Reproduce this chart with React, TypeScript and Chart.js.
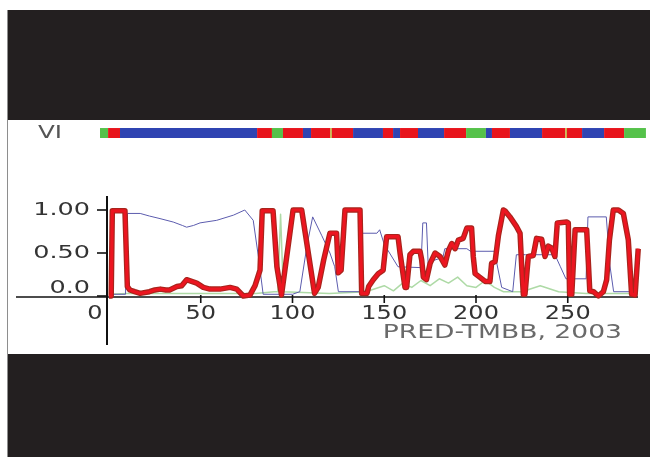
import React, { useEffect, useRef } from "react";
import { Chart, registerables } from "chart.js";

Chart.register(...registerables);

// ---- data ----
const RED_X = [0, 1.2, 1.8, 8.7, 10, 11.4, 14, 17, 22, 25, 28, 31, 33, 37, 39.6, 42.3, 45, 47.8, 51.4, 55, 60.5, 66, 69.6, 73.2, 76.8, 79.6, 82.3, 83.5, 89.4, 91.5, 94, 100.3, 105, 112, 114, 117, 120.4, 124, 125, 126.5, 128.6, 136.8, 137.7, 140.6, 141.5, 144, 146.7, 149.4, 151.3, 157.5, 158.6, 161.3, 162.2, 164, 165.8, 169.5, 170.4, 171.3, 173, 175, 177.7, 180.4, 183, 185, 186.8, 188.6, 190.4, 193, 195, 197.6, 198.5, 199.5, 202, 205, 207.6, 208.5, 210.4, 212.2, 214.9, 215.8, 218.5, 222, 224, 225, 225.8, 226.7, 228.5, 231.2, 233, 235.8, 237.6, 239.4, 241.2, 243, 244.3, 249.4, 250.3, 251, 252.2, 254, 260.3, 261.2, 262, 264, 266.7, 269.4, 271.2, 272.7, 274.8, 277.6, 280.3, 283, 284.8, 286.7, 288.4];
const RED_Y = [0, 0, 0.99, 0.99, 0.11, 0.07, 0.05, 0.03, 0.05, 0.07, 0.08, 0.07, 0.07, 0.11, 0.12, 0.19, 0.17, 0.15, 0.1, 0.08, 0.08, 0.1, 0.08, 0.0, 0.01, 0.12, 0.3, 0.99, 0.99, 0.34, 0.01, 1.0, 1.0, 0.03, 0.1, 0.42, 0.73, 0.73, 0.27, 0.3, 1.0, 1.0, 0.03, 0.03, 0.11, 0.19, 0.26, 0.3, 0.69, 0.69, 0.5, 0.1, 0.1, 0.48, 0.52, 0.52, 0.42, 0.22, 0.19, 0.38, 0.5, 0.46, 0.36, 0.53, 0.61, 0.55, 0.65, 0.67, 0.79, 0.79, 0.46, 0.26, 0.22, 0.17, 0.17, 0.38, 0.4, 0.7, 1.0, 0.99, 0.92, 0.81, 0.73, 0.3, 0.02, 0.02, 0.46, 0.47, 0.67, 0.66, 0.46, 0.58, 0.56, 0.46, 0.85, 0.86, 0.85, 0.02, 0.02, 0.77, 0.77, 0.4, 0.06, 0.05, 0.0, 0.05, 0.19, 0.65, 1.0, 1.0, 0.96, 0.65, 0.02, 0.01, 0.55];

const BLUE_X = [0, 9, 10, 17, 22, 27.8, 35, 40, 42.3, 46, 49.6, 58.7, 67.8, 74, 78.6, 81.4, 84, 100, 104, 108, 111, 116, 120.4, 123, 125, 137, 138, 146, 147.5, 150, 157.5, 170, 171, 173, 174, 175, 182, 183, 195, 197, 210, 214, 220, 222, 227, 243, 246, 249, 260, 261, 271, 273, 275, 288];
const BLUE_Y = [0.02, 0.02, 0.96, 0.96, 0.93, 0.9, 0.86, 0.82, 0.8, 0.82, 0.85, 0.88, 0.94, 1.0, 0.88, 0.46, 0.02, 0.02, 0.05, 0.6, 0.92, 0.7, 0.5, 0.34, 0.05, 0.05, 0.73, 0.73, 0.77, 0.6, 0.34, 0.33, 0.85, 0.85, 0.33, 0.4, 0.45, 0.55, 0.55, 0.52, 0.52, 0.1, 0.05, 0.48, 0.48, 0.48, 0.34, 0.2, 0.2, 0.92, 0.92, 0.35, 0.05, 0.05];

const GREEN_X = [0, 10, 80, 90, 92, 93.5, 95, 120, 140, 150, 155, 160, 165, 170, 175, 180, 185, 190, 195, 200, 205, 210, 215, 225, 235, 245, 260, 288];
const GREEN_Y = [0.02, 0.03, 0.03, 0.05, 0.05, 0.95, 0.05, 0.03, 0.05, 0.12, 0.06, 0.15, 0.1, 0.18, 0.12, 0.2, 0.15, 0.22, 0.12, 0.1, 0.18, 0.1, 0.05, 0.05, 0.12, 0.05, 0.03, 0.03];

const X_TICKS = [0, 50, 100, 150, 200, 250];
const X_TICK_LABELS = ["0", "50", "100", "150", "200", "250"];
const Y_TICKS = [0, 0.5, 1.0];
const Y_TICK_LABELS = ["0.0", "0.50", "1.00"];

// topology strip: boundaries and the state of each piece between them
const TOPO_BOUNDS = [-4.9, -0.5, 6.0, 80.7, 88.8, 94.8, 105.7, 110.1, 120.5, 121.5, 133, 149.3, 154.8, 158.6, 168.4, 182.6, 194.6, 205.4, 208.7, 218.5, 236, 248.6, 249.6, 257.8, 269.8, 280.7, 292.6];
const TOPO_STATES = ["O", "M", "I", "M", "O", "M", "I", "M", "Y", "M", "I", "M", "I", "M", "I", "M", "O", "I", "M", "I", "M", "Y", "M", "I", "M", "O"];
const TOPO_LABEL = "VI";
const CREDIT = "PRED-TMBB, 2003";

// ---- layout / style constants ----
const X_MIN = -55.04;
const X_MAX = 294.82;
const Y_MIN = -0.6744;
const Y_MAX = 2.0465;
const BAR_LEVEL = 1.895;
const STATE_COLORS: Record<string, string> = {
  M: "#e8141c",
  I: "#2f44b2",
  O: "#55c24a",
  Y: "#c9b24a",
};
const FONT = "'DejaVu Sans', Verdana, sans-serif";

function stretchedText(
  ctx: CanvasRenderingContext2D,
  text: string,
  x: number,
  y: number,
  size: number,
  sx: number,
  align: CanvasTextAlign,
  color: string
) {
  ctx.save();
  ctx.translate(x, y);
  ctx.scale(sx, 1);
  ctx.font = `${size}px ${FONT}`;
  ctx.textAlign = align;
  ctx.textBaseline = "middle";
  ctx.fillStyle = color;
  ctx.fillText(text, 0, 0);
  ctx.restore();
}

const axesPlugin = {
  id: "crossAxes",
  beforeDatasetsDraw(chart: any) {
    const { ctx, scales } = chart;
    const xs = scales.x;
    const ys = scales.y;
    const x0 = xs.getPixelForValue(0) - 2;
    const y0 = ys.getPixelForValue(0) + 1;
    ctx.save();
    ctx.strokeStyle = "#111";
    // x axis
    ctx.lineWidth = 1.6;
    ctx.beginPath();
    ctx.moveTo(xs.getPixelForValue(-50.7), y0);
    ctx.lineTo(xs.getPixelForValue(288.3), y0);
    ctx.stroke();
    // y axis
    ctx.lineWidth = 2;
    ctx.beginPath();
    ctx.moveTo(x0, ys.getPixelForValue(1.163));
    ctx.lineTo(x0, ys.getPixelForValue(-0.57));
    ctx.stroke();
    // y ticks
    ctx.lineWidth = 1.6;
    Y_TICKS.forEach((v) => {
      const py = ys.getPixelForValue(v);
      ctx.beginPath();
      ctx.moveTo(x0 - 10, py);
      ctx.lineTo(x0, py);
      ctx.stroke();
    });
    // x ticks
    X_TICKS.forEach((v) => {
      if (v === 0) return;
      const px = xs.getPixelForValue(v);
      ctx.beginPath();
      ctx.moveTo(px, y0 - 2);
      ctx.lineTo(px, y0 + 6);
      ctx.stroke();
    });
    ctx.restore();
  },
  afterDraw(chart: any) {
    const { ctx, scales, chartArea } = chart;
    const xs = scales.x;
    const ys = scales.y;
    const x0 = xs.getPixelForValue(0) - 2;
    const y0 = ys.getPixelForValue(0) + 1;
    Y_TICKS.forEach((v, i) => {
      let py = ys.getPixelForValue(v) + 1;
      if (py > y0 - 8) py = y0 - 8;
      stretchedText(ctx, Y_TICK_LABELS[i], x0 - 17, py, 17, 1.5, "right", "#333");
    });
    X_TICKS.forEach((v, i) => {
      let px = xs.getPixelForValue(v);
      if (v === 0) px -= 14;
      stretchedText(ctx, X_TICK_LABELS[i], px, y0 + 17, 20, 1.2, "center", "#333");
    });
    stretchedText(ctx, CREDIT, chartArea.right - 28, y0 + 36, 20, 1.33, "right", "#6a6a6a");
    stretchedText(ctx, TOPO_LABEL, chartArea.left + 30, ys.getPixelForValue(BAR_LEVEL) + 1, 17, 1.45, "left", "#555");
  },
};

function pts(xs: number[], ys: number[]) {
  return xs.map((x, i) => ({ x, y: ys[i] }));
}

export default function App() {
  const canvasRef = useRef<HTMLCanvasElement | null>(null);

  useEffect(() => {
    if (!canvasRef.current) return;
    const chart = new Chart(canvasRef.current, {
      type: "line",
      data: {
        datasets: [
          {
            label: "red",
            data: pts(RED_X, RED_Y),
            borderColor: "#ec1520",
            borderWidth: 3.2,
            order: 0,
          },
          {
            label: "red-edge",
            data: pts(RED_X, RED_Y),
            borderColor: "#a8241c",
            borderWidth: 5.5,
            order: 1,
          },
          {
            label: "blue",
            data: pts(BLUE_X, BLUE_Y),
            borderColor: "#5c5cae",
            borderWidth: 1,
            order: 2,
          },
          {
            label: "green",
            data: pts(GREEN_X, GREEN_Y),
            borderColor: "#aedaa6",
            borderWidth: 1.5,
            order: 3,
          },
          {
            label: "topology",
            data: TOPO_BOUNDS.map((x) => ({ x, y: BAR_LEVEL })),
            borderColor: STATE_COLORS.I,
            borderWidth: 10,
            borderCapStyle: "butt",
            segment: {
              borderColor: (c: any) => STATE_COLORS[TOPO_STATES[c.p0DataIndex]],
            },
            order: 4,
          } as any,
        ],
      },
      options: {
        animation: false,
        responsive: false,
        devicePixelRatio: 1,
        parsing: false as any,
        layout: { padding: 0 },
        elements: {
          point: { radius: 0, hoverRadius: 0 },
          line: { tension: 0, borderJoinStyle: "round" },
        },
        plugins: {
          legend: { display: false },
          tooltip: { enabled: false },
          title: { display: false },
        },
        events: [],
        scales: {
          x: { type: "linear", min: X_MIN, max: X_MAX, display: false },
          y: { type: "linear", min: Y_MIN, max: Y_MAX, display: false },
        },
      },
      plugins: [axesPlugin],
    });
    return () => chart.destroy();
  }, []);

  return (
    <div
      style={{
        position: "absolute",
        left: 0,
        top: 0,
        width: 650,
        height: 457,
        background: "#fff",
        overflow: "hidden",
      }}
    >
      <div style={{ position: "absolute", left: 7, top: 10, width: 1, height: 447, background: "#8e8e8e" }} />
      <div style={{ position: "absolute", left: 8, top: 10, width: 642, height: 110, background: "#231f20" }} />
      <div style={{ position: "absolute", left: 8, top: 354, width: 642, height: 103, background: "#231f20" }} />
      <canvas
        ref={canvasRef}
        width={642}
        height={234}
        style={{ position: "absolute", left: 8, top: 120, width: 642, height: 234 }}
      />
    </div>
  );
}
